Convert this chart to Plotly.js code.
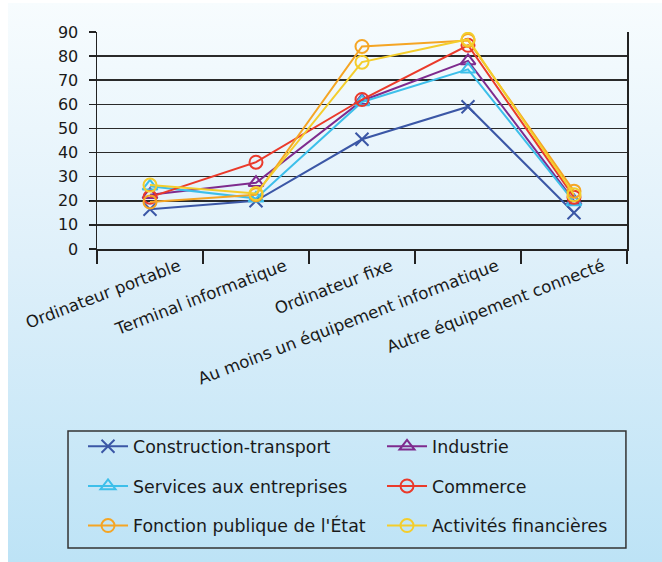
<!DOCTYPE html>
<html>
<head>
<meta charset="utf-8">
<script src="https://cdn.plot.ly/plotly-3.0.1.min.js"></script>
<style>
  html, body { margin: 0; padding: 0; background: #ffffff; }
  #bg { position: absolute; left: 8px; top: 3px; width: 654px; height: 559px;
        background: linear-gradient(to bottom, #f7fcfe 0%, #dff0fa 45%, #bde3f6 100%); }
  #chart { position: absolute; left: 0; top: 0; width: 662px; height: 562px; }
</style>
</head>
<body>
<div id="bg"></div>
<div id="chart"></div>
<script>
const categories = ["Ordinateur portable", "Terminal informatique", "Ordinateur fixe",
                    "Au moins un équipement informatique", "Autre équipement connecté"];
const construction = [16.5, 20, 45.5, 59, 15];
const industrie    = [22.5, 27.5, 61.5, 78, 20];
const services     = [26, 21, 61, 74.5, 19.5];
const commerce     = [21.5, 36, 62, 84.5, 21.5];
const fonction     = [19.5, 22.5, 84, 86.5, 24];
const activites    = [26.5, 23, 77.5, 87, 22.5];
const yTicks = [0, 10, 20, 30, 40, 50, 60, 70, 80, 90];

function mk(name, y, color, symbol, grp) {
  return {
    type: 'scatter', mode: 'lines+markers', name: name, x: categories, y: y,
    legendgroup: grp,
    line: { color: color, width: 2 },
    marker: { symbol: symbol, size: 13, color: color, line: { color: color, width: 2 } }
  };
}
const traces = [
  mk('Construction-transport', construction, '#3b57a6', 'x-thin-open', 'g1'),
  mk('Industrie', industrie, '#7e2b8e', 'triangle-up-open', 'g2'),
  mk('Services aux entreprises', services, '#3dbfea', 'triangle-up-open', 'g3'),
  mk('Commerce', commerce, '#ea3a2b', 'circle-open', 'g4'),
  mk("Fonction publique de l'État", fonction, '#f5a524', 'circle-open', 'g5'),
  mk('Activités financières', activites, '#f4cd2c', 'circle-open', 'g6')
];

const font = { family: 'DejaVu Sans', size: 16, color: '#1a1a1a' };
const xfont = { family: 'DejaVu Sans', size: 16.6, color: '#1a1a1a' };
const lfont = { family: 'DejaVu Sans', size: 17.4, color: '#1a1a1a' };
const layout = {
  width: 662, height: 562,
  margin: { l: 97, r: 35, t: 32, b: 313, autoexpand: false },
  paper_bgcolor: 'rgba(0,0,0,0)', plot_bgcolor: 'rgba(0,0,0,0)',
  font: font,
  showlegend: true,
  xaxis: {
    type: 'category', range: [-0.5, 4.5], tickson: 'boundaries',
    ticks: 'outside', ticklen: 13, tickwidth: 1.5, tickcolor: '#222',
    showline: true, linecolor: '#222', linewidth: 1.5,
    showgrid: false, tickangle: -21, ticklabelshift: 29,
    tickfont: xfont, automargin: false
  },
  yaxis: {
    range: [0, 90], tickvals: yTicks, ticks: 'outside', ticklen: 7, tickwidth: 1.5,
    tickcolor: '#222', showline: true, mirror: true, linecolor: '#222', linewidth: 1.5,
    showgrid: true, gridcolor: '#2a2a2a', gridwidth: 1.5, zeroline: false,
    tickfont: font, ticklabelstandoff: 7, fixedrange: true, automargin: false
  },
  legend: {
    orientation: 'h', traceorder: 'grouped', tracegroupgap: 14,
    x: -0.0264, y: -0.8272, xanchor: 'left', yanchor: 'top',
    bgcolor: 'rgba(0,0,0,0)', borderwidth: 0,
    entrywidth: 244, itemwidth: 40, font: lfont
  },
  shapes: [{
    type: 'rect', xref: 'paper', yref: 'paper',
    x0: -0.0547, x1: 0.998, y0: -1.378, y1: -0.839,
    line: { color: '#333', width: 1.5 }, fillcolor: 'rgba(0,0,0,0)', layer: 'above'
  }]
};
Plotly.newPlot('chart', traces, layout, { displayModeBar: false, staticPlot: true });
</script>
</body>
</html>
